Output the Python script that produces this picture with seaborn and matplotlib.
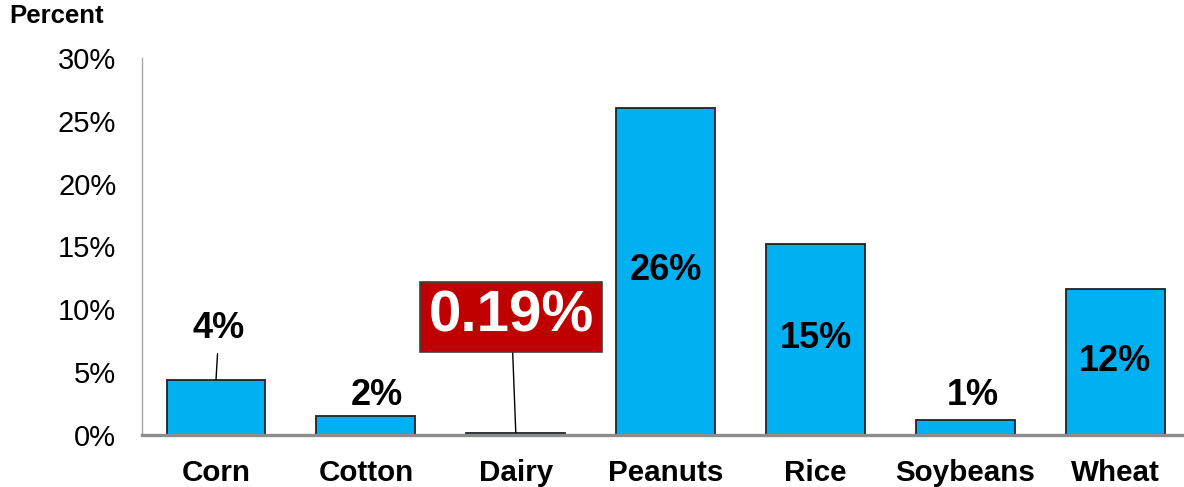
import matplotlib
matplotlib.use("Agg")
import matplotlib.pyplot as plt
import seaborn as sns
import pandas as pd

# Share of each commodity (percent)
categories = ["Corn", "Cotton", "Dairy", "Peanuts", "Rice", "Soybeans", "Wheat"]
values = [4.4, 1.5, 0.19, 26.0, 15.2, 1.2, 11.6]
y_ticks = [0, 5, 10, 15, 20, 25, 30]

# Label placement (data coordinates) per bar
label_x_shift = [0.02, 0.07, -0.03, 0.0, 0.0, 0.05, 0.0]
label_y = [8.45, 3.1, 9.4, 13.05, 7.65, 3.1, 5.85]
leader = [True, False, True, False, False, False, False]

sns.set_style("white")
plt.rcParams["font.family"] = ["Liberation Sans", "DejaVu Sans"]
plt.rcParams["text.color"] = "black"
plt.rcParams["xtick.color"] = "black"
plt.rcParams["ytick.color"] = "black"

df = pd.DataFrame({"category": categories, "value": values})

fig = plt.figure(figsize=(11.84, 4.87), dpi=100)
ax = fig.add_axes([0.1199, 0.107, 0.8801, 0.774])

sns.barplot(data=df, x="category", y="value", color="#00B0F0", saturation=1,
            edgecolor="#222222", linewidth=1.3, width=0.66, ax=ax)

ax.set_xlim(-0.494, 6.458)
ax.set_ylim(0, 30)
ax.set_yticks(y_ticks)
ax.set_yticklabels([f"{t}%" for t in y_ticks], fontsize=21)
ax.tick_params(axis="y", length=0, pad=18.5)
ax.tick_params(axis="x", length=0, pad=17)
for lbl in ax.get_xticklabels():
    lbl.set_fontsize(21.3)
    lbl.set_fontweight("bold")
ax.set_xlabel("")
ax.set_ylabel("")

for side in ["top", "right"]:
    ax.spines[side].set_visible(False)
ax.spines["left"].set_color("#a6a6a6")
ax.spines["left"].set_linewidth(1.0)
ax.spines["bottom"].set_color("#8c8c8c")
ax.spines["bottom"].set_linewidth(2.4)
ax.spines["bottom"].set_zorder(5)

fig.text(0.008, 0.967, "Percent", fontsize=18.5, fontweight="bold",
         ha="left", va="center")

for i, v in enumerate(values):
    text = f"{v:.2f}%" if v < 1 else f"{v:.0f}%"
    tx, ty = i + label_x_shift[i], label_y[i]
    if categories[i] == "Dairy":
        ax.annotate(text, xy=(i, v), xytext=(tx, ty), textcoords="data",
                    ha="center", va="center", fontsize=42, fontweight="bold",
                    color="white",
                    bbox=dict(boxstyle="square,pad=0.14", facecolor="#C00000",
                              edgecolor="#404040", linewidth=1.2),
                    arrowprops=dict(arrowstyle="-", color="black", lw=1.0,
                                    shrinkA=0, shrinkB=0))
    elif leader[i]:
        ax.annotate(text, xy=(i, v), xytext=(tx, ty), textcoords="data",
                    ha="center", va="center", fontsize=26, fontweight="bold",
                    color="black",
                    arrowprops=dict(arrowstyle="-", color="black", lw=1.0,
                                    shrinkA=3, shrinkB=0))
    else:
        ax.text(tx, ty, text, ha="center", va="center", fontsize=26,
                fontweight="bold", color="black")

fig.savefig("out.png", dpi=100, facecolor="white")
